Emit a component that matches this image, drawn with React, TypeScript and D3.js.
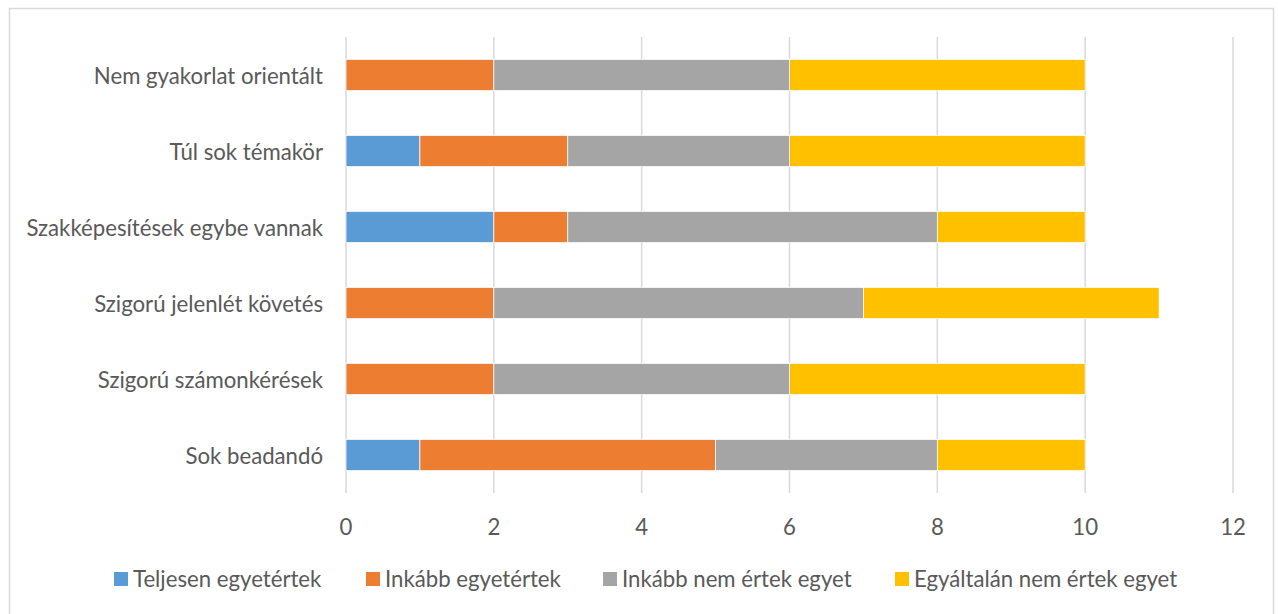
import React, { useEffect, useRef } from "react";
import * as d3 from "d3";

const categories = [
  "Nem gyakorlat orientált",
  "Túl sok témakör",
  "Szakképesítések egybe vannak",
  "Szigorú jelenlét követés",
  "Szigorú számonkérések",
  "Sok beadandó",
];
const seriesNames = [
  "Teljesen egyetértek",
  "Inkább egyetértek",
  "Inkább nem értek egyet",
  "Egyáltalán nem értek egyet",
];
const teljesen = [0, 1, 2, 0, 0, 1];
const inkabb = [2, 2, 1, 2, 2, 4];
const inkabbNem = [4, 3, 5, 5, 4, 3];
const egyaltalan = [4, 4, 2, 4, 4, 2];
const xTicks = [0, 2, 4, 6, 8, 10, 12];
const colors = ["#5b9bd5", "#ed7d31", "#a5a5a5", "#ffc000"];

const W = 1278;
const H = 614;
const FONT = "Lato, sans-serif";
const FS = 22.2;

export default function App() {
  const ref = useRef<SVGSVGElement>(null);
  useEffect(() => {
    const svg = d3.select(ref.current);
    svg.selectAll("*").remove();

    svg.append("rect").attr("x", 9.5).attr("y", 8.5).attr("width", 1264).attr("height", 620)
      .attr("fill", "#fff").attr("stroke", "#d9d9d9").attr("stroke-width", 1.5);

    const x = d3.scaleLinear().domain([0, 12]).range([346, 1233]);
    const y = d3.scaleBand().domain(categories).range([37, 493]).paddingInner(0.59).paddingOuter(0.295);

    const rows = categories.map((c, i) => ({
      cat: c,
      s0: teljesen[i], s1: inkabb[i], s2: inkabbNem[i], s3: egyaltalan[i],
    }));
    const stack = d3.stack<any>().keys(["s0", "s1", "s2", "s3"])(rows);

    svg.append("g").selectAll("line").data(xTicks).join("line")
      .attr("x1", d => x(d)).attr("x2", d => x(d))
      .attr("y1", 37).attr("y2", 493)
      .attr("stroke", "#d9d9d9").attr("stroke-width", 1.5);

    stack.forEach((layer, si) => {
      svg.append("g").selectAll("rect").data(layer).join("rect")
        .attr("x", d => x(d[0]))
        .attr("y", d => y(d.data.cat)!)
        .attr("width", d => x(d[1]) - x(d[0]))
        .attr("height", y.bandwidth())
        .attr("fill", colors[si])
        .attr("stroke", d => (d[1] - d[0] > 0 ? "#fff" : "none"))
        .attr("stroke-width", 0.75);
    });

    svg.append("g").selectAll("text").data(categories).join("text")
      .attr("x", 323).attr("y", d => y(d)! + y.bandwidth() / 2)
      .attr("text-anchor", "end").attr("dominant-baseline", "central")
      .attr("font-family", FONT).attr("font-size", FS).attr("fill", "#595959")
      .text(d => d);

    svg.append("g").selectAll("text").data(xTicks).join("text")
      .attr("x", d => x(d)).attr("y", 526)
      .attr("text-anchor", "middle").attr("dominant-baseline", "central")
      .attr("font-family", FONT).attr("font-size", FS).attr("fill", "#595959")
      .text(d => String(d));

    const legendX = [114, 366, 603, 895];
    const lg = svg.append("g");
    seriesNames.forEach((n, i) => {
      lg.append("rect").attr("x", legendX[i]).attr("y", 572).attr("width", 14).attr("height", 14).attr("fill", colors[i]);
      lg.append("text").attr("x", legendX[i] + 19).attr("y", 578)
        .attr("dominant-baseline", "central")
        .attr("font-family", FONT).attr("font-size", FS).attr("fill", "#595959")
        .text(n);
    });
  }, []);
  return (
    <svg ref={ref} width={W} height={H} style={{ position: "fixed", left: 0, top: 0 }} />
  );
}
